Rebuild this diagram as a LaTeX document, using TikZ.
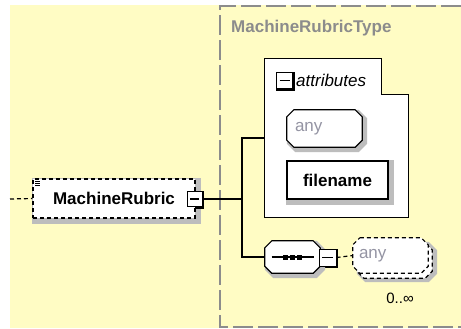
\documentclass[tikz,border=0pt]{standalone}
\usepackage{fontspec}
\setmainfont{Liberation Sans}
\pgfdeclarelayer{paper}
\pgfdeclarelayer{shapes}
\pgfsetlayers{paper,shapes,main}
\definecolor{paper}{rgb}{1,0.988,0.769}
\definecolor{typegray}{rgb}{0.55,0.55,0.55}
\definecolor{shadecolor}{rgb}{0.74,0.74,0.74}
\definecolor{anygray}{rgb}{0.58,0.58,0.64}
% octagon round a named node: options, node, chamfer
\newcommand\octagon[3][]{\path[#1] ([xshift = #3]#2.north west) -- ([xshift = -#3]#2.north east) -- ([yshift = -#3]#2.north east) -- ([yshift = #3]#2.south east) -- ([xshift = -#3]#2.south east) -- ([xshift = #3]#2.south west) -- ([yshift = #3]#2.south west) -- ([yshift = -#3]#2.north west) -- cycle;}
\begin{document}
\begin{tikzpicture}
	[
	x = {(1bp, 0bp)},
	y = {(0bp, -1bp)},
	edge/.style = {draw = black, line width = 1.2bp},
	dashedge/.style = {edge, dash pattern = on 4bp off 3bp},
	boldtext/.style = {font = \bfseries\fontsize{17bp}{20bp}\selectfont},
	anytext/.style = {text = anygray, font = \fontsize{17bp}{20bp}\selectfont, align = left},
	element/.style = {dashedge, fill = white, inner sep = 0pt, boldtext},
	plainbox/.style = {edge, fill = white, inner sep = 0pt, boldtext},
	octobox/.style = {inner sep = 0pt},
	dropshade/.style = {draw = shadecolor, fill = shadecolor, line width = 5bp, transform canvas = {xshift = #1, yshift = -#1}},
	dropshade/.default = 2.5bp,
	minus/.style = {draw = black, fill = white, line width = 1bp, minimum size = 15bp, inner sep = 0pt,
		path picture = {\draw[line width = 1.2bp] ([xshift = 3bp]path picture bounding box.west) -- ([xshift = -3bp]path picture bounding box.east);}}]
	
	\useasboundingbox (0, 0) rectangle (461, 328);
	
	%% Background and type frame
	
	\begin{pgfonlayer}{paper}
		\fill[paper] (10, 5) rectangle (461, 328);
		\draw[typegray, line width = 1.3bp, dash pattern = on 20bp off 5bp] (461, 6) -- (220, 6) -- (220, 327) -- (461, 327);
	\end{pgfonlayer}
	\node[boldtext, text = typegray, anchor = west, inner sep = 0pt] (typename) at (231, 28) {MachineRubricType};
	
	%% The element
	
	\coordinate (rubricin) at (10, 199);
	\coordinate (fork) at (242, 199);
	\node[element, minimum width = 162bp, minimum height = 39bp] (rubric) at (114, 198.5) {MachineRubric\hspace{5bp}};
	\foreach \dy in {2.5, 4.5, 6.5}
		\draw[line width = 0.7bp] ([xshift = 3bp, yshift = -\dy bp]rubric.north west) -- ++(5, 0);
	\node[minus] (rubricminus) at (194.5, 199) {};
	
	%% Attributes
	
	\node[minimum width = 143bp, minimum height = 158bp, inner sep = 0pt] (attrs) at (336.5, 138) {};
	\begin{pgfonlayer}{paper}
		\draw[edge, fill = white] (attrs.north west) -- ++(117, 0) -- ++(0, 36) -| (attrs.south east) -- (attrs.south west) -- cycle;
	\end{pgfonlayer}
	\node[minus, minimum size = 16bp] (attrsminus) at (284.5, 80.5) {};
	\node[font = \itshape\fontsize{17bp}{20bp}\selectfont, anchor = west, inner sep = 0pt] (attrstitle) at ([xshift = 3bp]attrsminus.east) {attributes};
	\node[octobox, anytext, minimum width = 75bp, minimum height = 37bp, text width = 59bp] (attrany) at (324.5, 128.5) {any};
	\node[plainbox, minimum width = 101bp, minimum height = 38bp] (filename) at (337.5, 180) {filename};
	
	%% Sequence and wildcard
	
	\node[octobox, minimum width = 55bp, minimum height = 32bp] (seq) at (292.5, 257) {};
	\draw[edge] ([xshift = -21bp]seq.center) -- ([xshift = 21bp]seq.center);
	\foreach \dx in {-7, 0, 7}
		\fill ([xshift = \dx bp]seq.center) +(-2.5, -2.5) rectangle +(2.5, 2.5);
	\node[minus, minimum size = 17bp] (seqminus) at (327.5, 257.5) {};
	\node[octobox, anytext, minimum width = 75bp, minimum height = 35bp, text width = 63bp] (wild) at (390.5, 255.5) {any};
	\node[font = \fontsize{15bp}{18bp}\selectfont, inner sep = 0pt] (wildcount) at (400, 298) {0..∞};
	
	%% Shadows below the boxes
	
	\begin{pgfonlayer}{paper}
		\foreach \b in {rubric, filename}
			\draw[shadecolor, fill = shadecolor, line width = 5bp] ([shift = {(2.5, 2.5)}]\b.north west) rectangle ([shift = {(2.5, 2.5)}]\b.south east);
		\foreach \m in {rubricminus, attrsminus, seqminus}
			\draw[black, fill = black, line width = 1.6bp] ([shift = {(0.8, 0.8)}]\m.north west) rectangle ([shift = {(0.8, 0.8)}]\m.south east);
		\octagon[dropshade]{attrany}{7bp}
		\octagon[dropshade]{seq}{7bp}
		\octagon[dropshade = 6.5bp]{wild}{7bp}
		\octagon[dashedge, fill = white, transform canvas = {xshift = 4bp, yshift = -5bp}]{wild}{7bp}
	\end{pgfonlayer}
	
	%% Octagons
	
	\begin{pgfonlayer}{shapes}
		\octagon[edge, fill = white]{attrany}{7bp}
		\octagon[edge, fill = white]{seq}{7bp}
		\octagon[dashedge, fill = white]{wild}{7bp}
	\end{pgfonlayer}
	
	%% Connectors
	
	\draw[dashedge] (rubricin) -- (rubric.west);
	\draw[edge] (rubricminus.east) -- (fork);
	\draw[edge] (attrs.west) -| (fork) |- (seq.west);
	\draw[dashedge] (seqminus.east) -- (wild.west);
\end{tikzpicture}
\end{document}
